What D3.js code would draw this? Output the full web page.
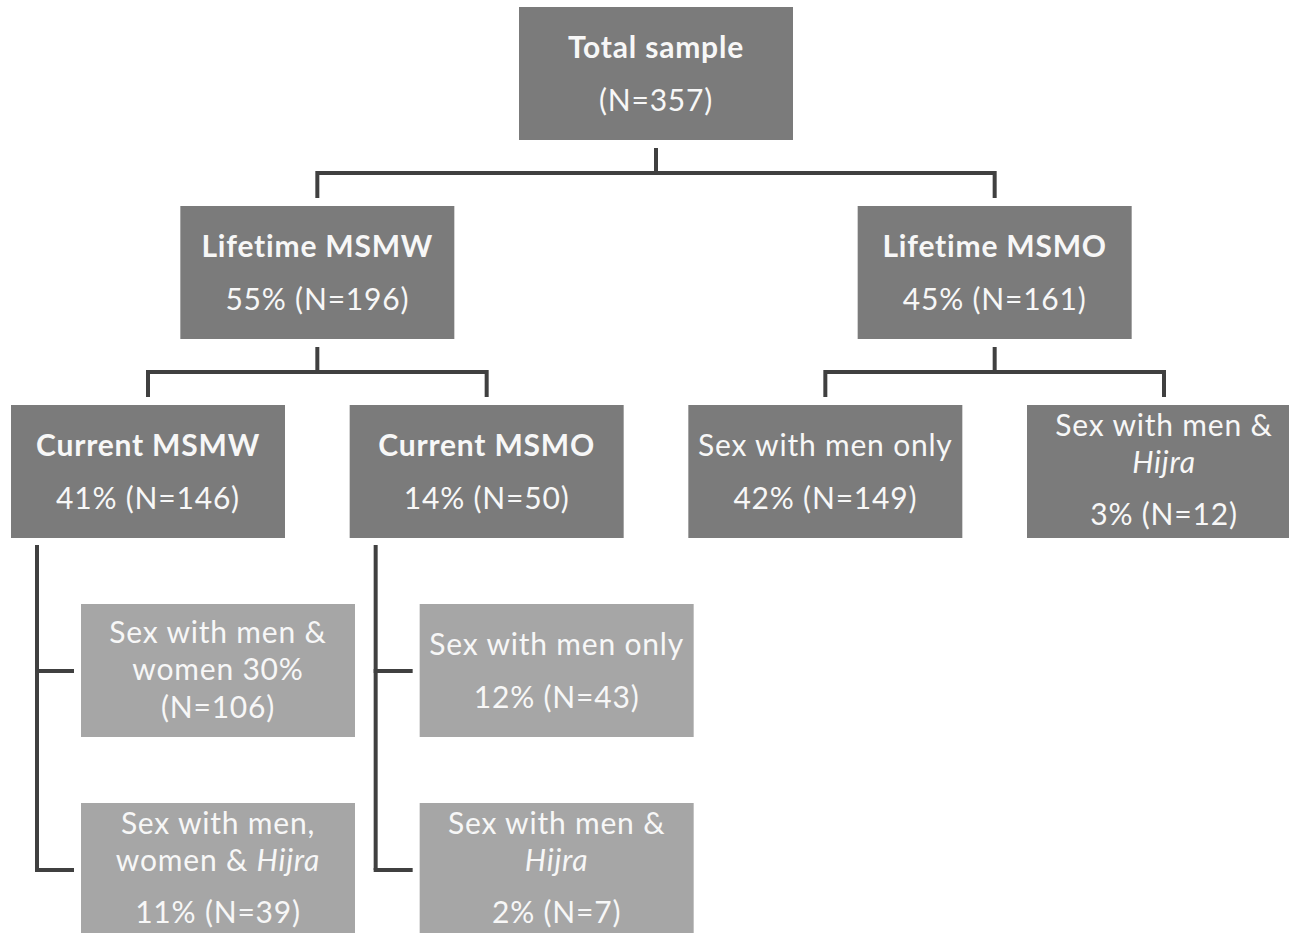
<!DOCTYPE html>
<html>
<head>
<meta charset="utf-8">
<script src="https://cdn.jsdelivr.net/npm/d3@7"></script>
<style>
  body { margin: 0; background: #fff; }
  svg { display: block; }
</style>
</head>
<body>
<div id="main"></div>
<script>
// tree of the sample breakdown
var nodeIds   = ["total", "lifeMSMW", "lifeMSMO", "curMSMW", "curMSMO", "lifeMenOnly", "lifeMenHijra",
                 "curWomen", "curWomenHijra", "curMenOnly", "curMenHijra"];
var parentIds = ["", "total", "total", "lifeMSMW", "lifeMSMW", "lifeMSMO", "lifeMSMO",
                 "curMSMW", "curMSMW", "curMSMO", "curMSMO"];
var titles = [
  ["Total sample"],
  ["Lifetime MSMW"],
  ["Lifetime MSMO"],
  ["Current MSMW"],
  ["Current MSMO"],
  ["Sex with men only"],
  ["Sex with men &", "*Hijra*"],
  ["Sex with men &", "women {p}"],
  ["Sex with men,", "women & *Hijra*"],
  ["Sex with men only"],
  ["Sex with men &", "*Hijra*"]
];
var percents = [null, 55, 45, 41, 14, 42, 3, 30, 11, 12, 2];
var counts   = [357, 196, 161, 146, 50, 149, 12, 106, 39, 43, 7];

var width = 1289, height = 933;
var boxW = 274, boxH = 133;
var fontFam = "Lato, 'Open Sans', sans-serif";

var svg = d3.select("#main")
  .append("svg")
  .attr("width", width)
  .attr("height", height)
  .style("font-family", fontFam);

var table = nodeIds.map(function (id, i) {
  return { id: id, parent: parentIds[i] || null, title: titles[i], pct: percents[i], n: counts[i] };
});
var root = d3.stratify().id(d => d.id).parentId(d => d.parent)(table);

// column slots for the third level, parents sit in the middle of their children
var x = d3.scaleLinear().domain([0, 3]).range([11, 1027]);
var y = d3.scaleLinear().domain([0, 4]).range([7, 803]);
var subOffset = 70; // bracket children are pushed right

var slot = 0;
root.eachAfter(function (d) {
  if (d.depth === 2) { d.slot = slot++; }
  else if (d.depth < 2) { d.slot = d3.mean(d.children, c => c.slot); }
});
root.each(function (d) {
  if (d.depth <= 2) {
    d.x0 = x(d.slot);
    d.y0 = y(d.depth);
  } else {
    var k = d.parent.children.indexOf(d);
    d.x0 = x(d.parent.slot) + subOffset;
    d.y0 = y(d.parent.depth + 1 + k);
  }
});

var lineCol = "#404040";
var links = svg.append("g")
  .attr("fill", "none")
  .attr("stroke", lineCol)
  .attr("stroke-width", 4);

// elbow connectors between the top three levels
root.descendants().filter(d => d.depth < 2 && d.children).forEach(function (p) {
  var px = p.x0 + boxW / 2, pBottom = p.y0 + boxH;
  var cTop = p.children[0].y0;
  var midY = (pBottom + cTop) / 2;
  links.append("path").attr("d", d3.line()([[px, pBottom + 8], [px, midY]]));
  var xs = p.children.map(c => c.x0 + boxW / 2);
  links.append("path").attr("d", d3.line()([[xs[0], cTop - 8], [xs[0], midY], [xs[xs.length - 1], midY], [xs[xs.length - 1], cTop - 8]]));
});

// bracket connectors to the fourth level
root.descendants().filter(d => d.depth === 2 && d.children).forEach(function (p) {
  var bx = p.x0 + 26;
  var ends = p.children.map(c => c.y0 + 67);
  links.append("path").attr("d", d3.line()([[bx, p.y0 + boxH + 7], [bx, ends[ends.length - 1]]]));
  p.children.forEach(function (c, i) {
    links.append("path").attr("d", d3.line()([[bx - 2, ends[i]], [c.x0 - 7, ends[i]]]));
  });
});

// boxes
var nodes = svg.append("g").selectAll("g")
  .data(root.descendants())
  .enter()
  .append("g")
  .attr("transform", d => "translate(" + d.x0 + "," + d.y0 + ")");

nodes.append("rect")
  .attr("width", boxW)
  .attr("height", boxH)
  .attr("fill", d => d.depth === 3 ? "#a6a6a6" : "#7b7b7b");

function statLine(d) {
  var merged = d.data.title.some(t => t.indexOf("{p}") >= 0);
  if (d.data.pct === null || merged) return "(N=" + d.data.n + ")";
  return d.data.pct + "% (N=" + d.data.n + ")";
}

nodes.each(function (d) {
  var g = d3.select(this);
  var bold = !!d.children;
  var tl = d.data.title.map(t => t.replace("{p}", d.data.pct + "%"));
  var lines = tl.concat([statLine(d)]);
  var merged = d.data.title.some(t => t.indexOf("{p}") >= 0);
  var offs;
  if (lines.length === 2) offs = [40, 93];
  else if (merged) offs = [28, 65, 103];
  else offs = [20, 57, 109];
  lines.forEach(function (ln, i) {
    var t = g.append("text")
      .attr("x", boxW / 2)
      .attr("y", offs[i])
      .attr("dy", "0.35em")
      .attr("text-anchor", "middle")
      .attr("fill", "#f7f7f7")
      .style("font-size", "30px")
      .style("letter-spacing", "0.8px")
      .style("font-weight", (bold && i < tl.length) ? "bold" : "normal");
    ln.split("*").forEach(function (part, j) {
      if (part === "") return;
      t.append("tspan").text(part).style("font-style", j % 2 ? "italic" : "normal");
    });
  });
});
</script>
</body>
</html>
